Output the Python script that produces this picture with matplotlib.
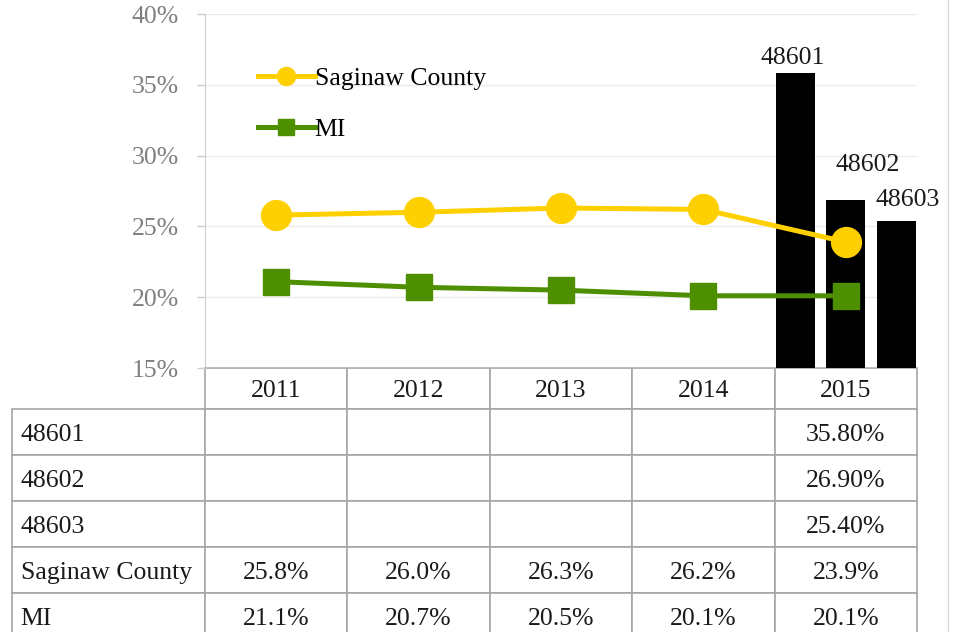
import matplotlib
matplotlib.use('Agg')
import matplotlib.pyplot as plt
from matplotlib.lines import Line2D
from matplotlib.ticker import PercentFormatter

plt.rcParams['font.family'] = ['Liberation Serif', 'DejaVu Serif']

# Datos
years = ['2011', '2012', '2013', '2014', '2015']
zips = ['48601', '48602', '48603']
zip_2015 = [35.8, 26.9, 25.4]
saginaw = [25.8, 26.0, 26.3, 26.2, 23.9]
mi = [21.1, 20.7, 20.5, 20.1, 20.1]

gold = '#FFD000'
green = '#4E8F00'
fs = 18.5

fig = plt.figure(figsize=(9.54, 6.32), dpi=100)
ax = fig.add_axes([0.2149, 0.4177, 0.7463, 0.5601])
x = list(range(len(years)))

# Barras de los códigos postales (solo 2015), etiquetas desplazadas como en el original
bw = 0.275
label_off = [(-2, 3), (16, 17), (8, 7)]
for i, (z, v) in enumerate(zip(zips, zip_2015)):
    xp = x[-1] + (i - 1) * 0.355
    ax.bar(xp, v, width=bw, color='black', zorder=2)
    ax.annotate(z, (xp, v), xytext=label_off[i], textcoords='offset points',
                ha='center', va='bottom', fontsize=fs, color='#1a1a1a')

# Líneas
ax.plot(x, saginaw, color=gold, lw=3.6, marker='o', ms=21.5, zorder=3)
ax.plot(x, mi, color=green, lw=3.6, marker='s', ms=19, zorder=3)

ax.set_xlim(-0.5, 4.5)
ax.set_ylim(15, 40)
ax.set_yticks([15, 20, 25, 30, 35, 40])
ax.yaxis.set_major_formatter(PercentFormatter(decimals=0))
ax.set_xticks([])
ax.grid(axis='y', color='#ececec', lw=1, zorder=0)
ax.set_axisbelow(True)
for s in ['top', 'right', 'bottom']:
    ax.spines[s].set_visible(False)
ax.spines['left'].set_color('#cccccc')
ax.tick_params(axis='y', colors='#cccccc', length=6, width=1, pad=13,
               labelsize=fs, labelcolor='#7f7f7f')

# Leyenda
handles = [Line2D([], [], color=gold, lw=3.6, marker='o', ms=13),
           Line2D([], [], color=green, lw=3.6, marker='s', ms=12)]
ax.legend(handles, ['Saginaw County', 'MI'], loc='upper left',
          bbox_to_anchor=(0.06, 0.88), frameon=False, fontsize=fs,
          handlelength=2.2, handletextpad=0.0, labelspacing=1.1,
          borderaxespad=0)

# Tabla de datos (la primera columna lleva las etiquetas de fila)
cells = []
for z, v in zip(zips, zip_2015):
    cells.append([z] + [''] * (len(years) - 1) + [f'{v:.2f}%'])
cells.append(['Saginaw County'] + [f'{v:.1f}%' for v in saginaw])
cells.append(['MI'] + [f'{v:.1f}%' for v in mi])

lw_px = 193 / 712
tab = ax.table(cellText=cells, colLabels=[''] + years, cellLoc='center',
               bbox=[-lw_px, -271 / 354, 1 + lw_px, 271 / 354])
tab.auto_set_font_size(False)
tab.set_fontsize(fs)
for (r, c), cell in tab.get_celld().items():
    cell.set_edgecolor('#a6a6a6')
    cell.set_linewidth(1.2)
    cell.set_height(41 if r == 0 else 46)
    cell.set_width(193 if c == 0 else 142.4)
    cell.get_text().set_color('#1a1a1a')
    cell.get_text().set_verticalalignment('center_baseline')
    if c == 0:
        cell.PAD = 0.045
        cell.get_text().set_horizontalalignment('left')
        cell._loc = 'left'
        if r == 0:
            cell.visible_edges = ''

# Borde derecho del gráfico
fig.add_artist(Line2D([948 / 954, 948 / 954], [0, 1], color='#d9d9d9', lw=1))

fig.savefig('out.png', dpi=100)
